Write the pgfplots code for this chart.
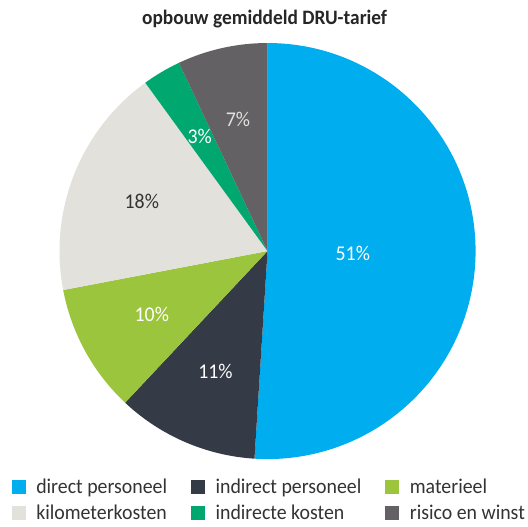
\documentclass[border=0pt]{standalone}
\usepackage{fontspec}
\setmainfont{Carlito}[FakeStretch=0.945]
\usepackage{pgfplots}
\usepackage{pgfplotstable}
\pgfplotsset{compat=1.18}

\definecolor{cDirect}{HTML}{00AEEF}
\definecolor{cIndP}{HTML}{343A46}
\definecolor{cMat}{HTML}{9BC53D}
\definecolor{cKm}{HTML}{E3E1DC}
\definecolor{cIndK}{HTML}{00A870}
\definecolor{cRisk}{HTML}{636164}
\definecolor{cLbl}{HTML}{333333}

% pct, colour, label radius (fraction of R), label colour
\pgfplotstableread{
pct col lr tc
51 cDirect 0.41 white
11 cIndP 0.63 white
10 cMat 0.635 white
18 cKm 0.65 cLbl
3 cIndK 0.64 white
7 cRisk 0.65 cKm
}\slices

\newcommand\pielabel{\fontsize{21bp}{24bp}\selectfont}
\pgfplotsset{
  sq/.style={legend image code/.code={\fill[#1] (0bp,-6.5bp) rectangle (13bp,6.5bp);}}
}

\begin{document}
\begin{tikzpicture}
\begin{axis}[
    scale only axis,
    width=416bp, height=416bp,
    xmin=-1, xmax=1, ymin=-1, ymax=1,
    hide axis, clip=false,
    legend columns=3,
    legend cell align=left,
    legend style={
      at={(-0.115,-0.042)}, anchor=north west,
      draw=none, fill=none, inner sep=0pt,
      nodes={inner xsep=1bp},
      font=\fontsize{21bp}{24bp}\selectfont,
      text=cLbl,
      row sep=6bp,
      /tikz/every odd column/.append style={column sep=10bp},
      /tikz/every even column/.append style={column sep=23bp},
    },
  ]
  % bounding box of the whole picture
  \path (rel axis cs:-0.143,-0.161) rectangle (rel axis cs:1.126,1.1034);

  \xdef\cum{0}
  \pgfplotsinvokeforeach{0,...,5}{
    \pgfplotstablegetelem{#1}{pct}\of\slices \let\slpct\pgfplotsretval
    \pgfplotstablegetelem{#1}{col}\of\slices \let\slcol\pgfplotsretval
    \pgfplotstablegetelem{#1}{lr}\of\slices \let\sllr\pgfplotsretval
    \pgfplotstablegetelem{#1}{tc}\of\slices \let\sltc\pgfplotsretval
    \pgfmathsetmacro\sla{90-3.6*\cum}
    \pgfmathsetmacro\slb{\sla-3.6*\slpct}
    \pgfmathsetmacro\slm{(\sla+\slb)/2}
    \pgfmathsetmacro\slx{\sllr*cos(\slm)}
    \pgfmathsetmacro\sly{\sllr*sin(\slm)}
    \edef\doit{%
      \noexpand\fill[\slcol] (axis cs:0,0) -- ++(\sla:208bp)
        arc[start angle=\sla, end angle=\slb, radius=208bp] -- cycle;
      \noexpand\node[text=\sltc, font=\noexpand\pielabel] at (axis cs:\slx,\sly) {\slpct\noexpand\%};
    }
    \doit
    \pgfmathsetmacro\cumnew{\cum+\slpct}
    \global\let\cum\cumnew
  }

  \node[font=\fontsize{20.5bp}{24bp}\selectfont\bfseries, text=black!85] at (rel axis cs:0.493,1.0577) {opbouw gemiddeld DRU-tarief};

  \addlegendimage{sq=cDirect}\addlegendentry{direct personeel}
  \addlegendimage{sq=cIndP}\addlegendentry{indirect personeel}
  \addlegendimage{sq=cMat}\addlegendentry{materieel}
  \addlegendimage{sq=cKm}\addlegendentry{kilometerkosten}
  \addlegendimage{sq=cIndK}\addlegendentry{indirecte kosten}
  \addlegendimage{sq=cRisk}\addlegendentry{risico en winst}
\end{axis}
\end{tikzpicture}
\end{document}
